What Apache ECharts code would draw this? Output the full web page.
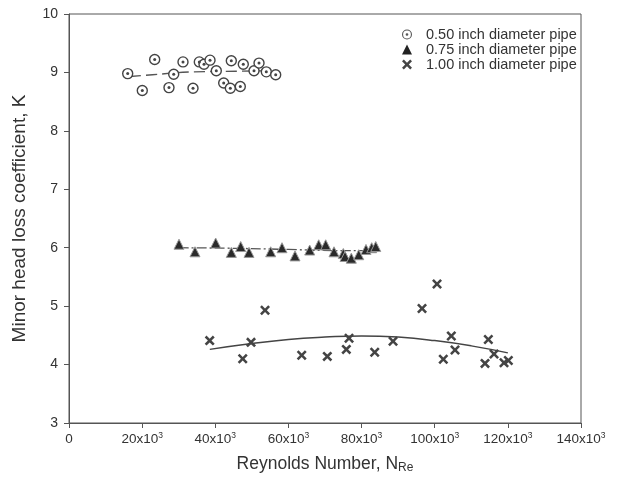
<!DOCTYPE html>
<html>
<head>
<meta charset="utf-8">
<script src="https://cdn.jsdelivr.net/npm/echarts@6/dist/echarts.min.js"></script>
<style>
  html, body { margin: 0; padding: 0; background: #fff; }
  #chart { width: 622px; height: 495px; }
</style>
</head>
<body>
<div id="chart"></div>
<script>
// Reynolds number (x) and minor head loss coefficient K (y) per pipe size
const pipe050Re = [16.05, 20.04, 23.43, 27.34, 28.63, 31.17, 33.91, 35.63, 36.92, 38.56,
                   40.28, 42.30, 44.11, 44.38, 46.84, 47.66, 50.59, 51.96, 53.95, 56.52];
const pipe050K  = [8.98, 8.69, 9.22, 8.74, 8.97, 9.18, 8.73, 9.18, 9.14, 9.21,
                   9.03, 8.82, 8.73, 9.20, 8.76, 9.14, 9.03, 9.16, 9.01, 8.96];

const pipe075Re = [30.08, 34.45, 40.11, 44.38, 46.95, 49.22, 55.15, 58.24, 61.80, 65.82,
                   68.28, 70.19, 72.46, 75.01, 75.47, 77.19, 79.22, 81.21, 82.77, 83.87];
const pipe075K  = [6.06, 5.93, 6.08, 5.92, 6.02, 5.92, 5.93, 6.00, 5.86, 5.96,
                   6.05, 6.05, 5.93, 5.90, 5.85, 5.82, 5.88, 5.97, 6.00, 6.02];

const pipe100Re = [38.47, 47.50, 49.77, 53.60, 63.63, 70.63, 75.83, 76.57, 83.59, 88.60,
                   96.53, 100.63, 102.35, 104.54, 105.55, 113.75, 114.66, 116.22, 118.95, 120.13];
const pipe100K  = [4.41, 4.10, 4.38, 4.93, 4.16, 4.14, 4.26, 4.45, 4.21, 4.40,
                   4.96, 5.38, 4.09, 4.49, 4.25, 4.02, 4.43, 4.18, 4.03, 4.07];

// Trend curves (Re in thousands, K)
const fit050Re = [16.7, 22.8, 34.2, 46.0, 56.0];
const fit050K  = [8.93, 8.96, 9.01, 9.02, 9.03];
const fit075Re = [30, 45, 60, 75, 84];
const fit075K  = [6.00, 5.99, 5.97, 5.95, 5.95];
const fit100Re = [38.5, 50, 60, 70, 80, 90, 100, 110, 120];
const fit100K  = [4.26, 4.36, 4.43, 4.47, 4.49, 4.47, 4.41, 4.32, 4.20];

const xTicks = [0, 20000, 40000, 60000, 80000, 100000, 120000, 140000];
const seriesNames = ['0.50 inch diameter pipe', '0.75 inch diameter pipe', '1.00 inch diameter pipe'];

const pairs = (xs, ys) => xs.map((x, i) => [x * 1000, ys[i]]);

const INK = '#444';
const FONT = '"Liberation Sans", Arial, sans-serif';
const ringDot = 'path://M10,0A10,10,0,1,1,10,20A10,10,0,1,1,10,0ZM10,2.2A7.8,7.8,0,1,0,10,17.8A7.8,7.8,0,1,0,10,2.2ZM10,7.3A2.7,2.7,0,1,1,10,12.7A2.7,2.7,0,1,1,10,7.3Z';
const cross = 'path://M0,1.8L1.8,0L5,3.2L8.2,0L10,1.8L6.8,5L10,8.2L8.2,10L5,6.8L1.8,10L0,8.2L3.2,5Z';

const chart = echarts.init(document.getElementById('chart'), null, { renderer: 'canvas' });
chart.setOption({
  animation: false,
  backgroundColor: '#fff',
  textStyle: { fontFamily: FONT, color: '#333' },
  grid: { left: 69, right: 41, top: 14, bottom: 72, show: true, borderColor: '#555', borderWidth: 1 },
  legend: {
    orient: 'vertical',
    left: 397, top: 22,
    itemWidth: 10, itemHeight: 10, itemGap: 0,
    textStyle: { fontFamily: FONT, fontSize: 14.5, color: '#333', padding: [0, 0, 0, 9], lineHeight: 15 },
    data: [
      { name: seriesNames[0], icon: ringDot, itemStyle: { color: '#555', borderWidth: 0 } },
      { name: seriesNames[1], icon: 'triangle', itemStyle: { color: '#222', borderWidth: 0 } },
      { name: seriesNames[2], icon: cross, itemStyle: { color: INK, borderWidth: 0 } }
    ]
  },
  xAxis: {
    type: 'value', min: 0, max: 140000, interval: 20000,
    name: '{a|Reynolds Number, N}{b|Re}',
    nameLocation: 'middle', nameGap: 31,
    nameTextStyle: {
      rich: {
        a: { fontFamily: FONT, fontSize: 17.5, color: '#333', lineHeight: 20 },
        b: { fontFamily: FONT, fontSize: 12, color: '#333', lineHeight: 10, verticalAlign: 'bottom' }
      }
    },
    axisLine: { lineStyle: { color: '#555', width: 1 } },
    axisTick: { inside: false, length: 5, lineStyle: { color: '#555' } },
    splitLine: { show: false },
    axisLabel: {
      margin: 8,
      formatter: v => v === 0 ? '{m|0}' : '{m|' + (v / 1000) + 'x10}{s|3}',
      rich: {
        m: { fontFamily: FONT, fontSize: 13.5, color: '#333', lineHeight: 16 },
        s: { fontFamily: FONT, fontSize: 8.5, color: '#333', lineHeight: 9, verticalAlign: 'top' }
      },
      customValues: xTicks
    }
  },
  yAxis: {
    type: 'value', min: 3, max: 10, interval: 1,
    name: 'Minor head loss coefficient, K',
    nameLocation: 'middle', nameGap: 40, nameRotate: 90,
    nameTextStyle: { fontFamily: FONT, fontSize: 19, color: '#333' },
    axisLine: { lineStyle: { color: '#555', width: 1 } },
    axisTick: { inside: false, length: 5, lineStyle: { color: '#555' } },
    splitLine: { show: false },
    axisLabel: { fontFamily: FONT, fontSize: 14, color: '#333', margin: 11 }
  },
  series: [
    {
      name: 'fit050', type: 'line', smooth: true, symbol: 'none', silent: true, z: 1,
      data: pairs(fit050Re, fit050K),
      lineStyle: { color: '#555', width: 1.3, type: [11, 5] }
    },
    {
      name: seriesNames[0], type: 'scatter', symbol: 'circle', symbolSize: 10, z: 3,
      data: pairs(pipe050Re, pipe050K),
      itemStyle: { color: '#fff', borderColor: INK, borderWidth: 1.4, opacity: 1 }
    },
    {
      name: 'dot050', type: 'scatter', symbol: 'circle', symbolSize: 3, z: 4, silent: true,
      data: pairs(pipe050Re, pipe050K),
      itemStyle: { color: INK, opacity: 1 }
    },
    {
      name: 'fit075', type: 'line', smooth: true, symbol: 'none', silent: true, z: 1,
      data: pairs(fit075Re, fit075K),
      lineStyle: { color: '#555', width: 1.3, type: [10, 3, 2, 3] }
    },
    {
      name: seriesNames[1], type: 'scatter', symbol: 'triangle', symbolSize: 10, z: 3,
      data: pairs(pipe075Re, pipe075K),
      itemStyle: { color: '#2a2a2a', borderColor: '#999', borderWidth: 1, opacity: 1 }
    },
    {
      name: 'fit100', type: 'line', smooth: true, symbol: 'none', silent: true, z: 1,
      data: pairs(fit100Re, fit100K),
      lineStyle: { color: '#444', width: 1.5 }
    },
    {
      name: seriesNames[2], type: 'scatter', symbol: cross, symbolSize: 10, z: 3,
      data: pairs(pipe100Re, pipe100K),
      itemStyle: { color: INK, opacity: 1 }
    }
  ]
});
</script>
</body>
</html>
